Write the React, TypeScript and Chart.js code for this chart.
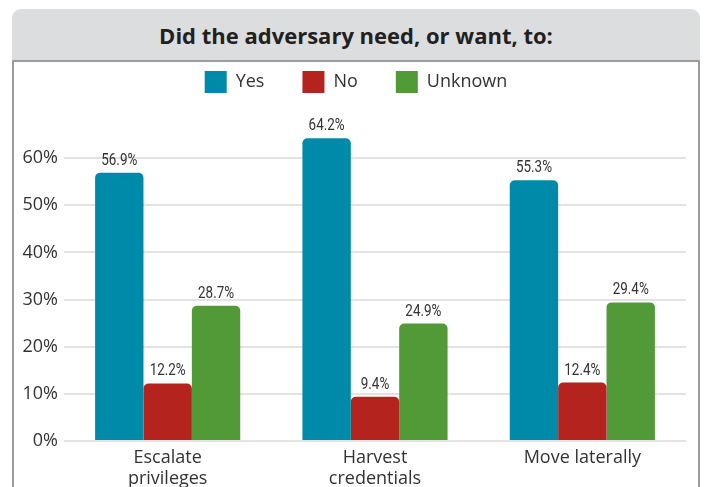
import React, { useEffect, useRef } from "react";
import { Chart, registerables } from "chart.js";

Chart.register(...registerables);

const categories: string[][] = [["Escalate", "privileges"], ["Harvest", "credentials"], ["Move laterally"]];
const seriesNames = ["Yes", "No", "Unknown"];
const yesValues = [56.9, 64.2, 55.3];
const noValues = [12.2, 9.4, 12.4];
const unknownValues = [28.7, 24.9, 29.4];
const seriesColors = ["#008aa9", "#b5231f", "#529938"];
const yTickValues = [0, 10, 20, 30, 40, 50, 60];
const titleText = "Did the adversary need, or want, to:";

const UI_FONT = "'Open Sans', 'Noto Sans', sans-serif";
const LABEL_FONT = "Roboto, sans-serif";

const valueLabels = {
  id: "valueLabels",
  afterLayout(chart: any) {
    if (chart.legend) {
      chart.legend.left += 2;
      chart.legend.right += 2;
    }
  },
  afterDatasetsDraw(chart: any) {
    const ctx = chart.ctx;
    chart.data.datasets.forEach((ds: any, i: number) => {
      const meta = chart.getDatasetMeta(i);
      meta.data.forEach((bar: any, j: number) => {
        const v = ds.data[j] as number;
        ctx.save();
        ctx.font = `16px ${LABEL_FONT}`;
        ctx.fillStyle = "#333333";
        ctx.textAlign = "center";
        ctx.textBaseline = "bottom";
        ctx.translate(bar.x, bar.y - 4);
        ctx.scale(0.84, 1);
        ctx.fillText(v.toFixed(1) + "%", 0, 0);
        ctx.restore();
      });
    });
  },
};

export default function App() {
  const ref = useRef<HTMLCanvasElement | null>(null);

  useEffect(() => {
    if (!ref.current) return;
    const values = [yesValues, noValues, unknownValues];
    const chart = new Chart(ref.current, {
      type: "bar",
      data: {
        labels: categories,
        datasets: seriesNames.map((name, i) => ({
          label: name,
          data: values[i],
          backgroundColor: seriesColors[i],
          borderRadius: { topLeft: 5, topRight: 5, bottomLeft: 0, bottomRight: 0 },
          borderSkipped: "bottom",
          categoryPercentage: 0.7,
          barPercentage: 1.0,
        })),
      },
      options: {
        animation: false,
        responsive: false,
        maintainAspectRatio: false,
        layout: { padding: { left: 22, right: 20, top: 1, bottom: 0 } },
        plugins: {
          tooltip: { enabled: false },
          legend: {
            position: "top",
            align: "center",
            labels: {
              boxWidth: 22,
              boxHeight: 22,
              padding: 38,
              color: "#333333",
              font: { family: UI_FONT, size: 18 },
            },
          },
          title: { display: false },
        },
        scales: {
          x: {
            grid: { display: false, drawTicks: false },
            border: { display: false },
            ticks: {
              color: "#333333",
              font: { family: UI_FONT, size: 18, lineHeight: 1.13 },
              padding: 7,
              maxRotation: 0,
              autoSkip: false,
            },
            afterFit(scale: any) {
              scale.height = 46;
            },
          },
          y: {
            min: 0,
            max: 71.7,
            grid: { color: "#e3e3e3", lineWidth: 2, drawTicks: false },
            border: { display: false },
            ticks: {
              color: "#333333",
              font: { family: UI_FONT, size: 18 },
              padding: 6,
              stepSize: 10,
              callback: (v: any) => v + "%",
            },
            afterBuildTicks(scale: any) {
              scale.ticks = yTickValues.map((v) => ({ value: v }));
            },
            afterFit(scale: any) {
              scale.width = 42;
            },
          },
        },
      } as any,
      plugins: [valueLabels],
    });
    return () => chart.destroy();
  }, []);

  return (
    <div style={{ position: "absolute", left: 0, top: 0, width: 706, height: 487, overflow: "hidden", background: "#ffffff" }}>
      <div
        style={{
          position: "absolute",
          left: 12,
          top: 9,
          width: 688,
          height: 51,
          background: "#dcdddf",
          borderRadius: "9px 9px 0 0",
          borderBottom: "2px solid #9c9c9c",
          display: "flex",
          alignItems: "center",
          justifyContent: "center",
          fontFamily: "'Open Sans', 'Noto Sans', sans-serif",
          fontWeight: 700,
          fontSize: 22,
          color: "#231f20",
          boxSizing: "content-box",
        }}
      >
        {titleText}
      </div>
      <div
        style={{
          position: "absolute",
          left: 12,
          top: 62,
          width: 688,
          height: 440,
          boxSizing: "border-box",
          borderLeft: "2px solid #9c9c9c",
          borderRight: "2px solid #9c9c9c",
        }}
      />
      <canvas ref={ref} width={706} height={455} style={{ position: "absolute", left: 0, top: 32, width: 706, height: 455 }} />
    </div>
  );
}
